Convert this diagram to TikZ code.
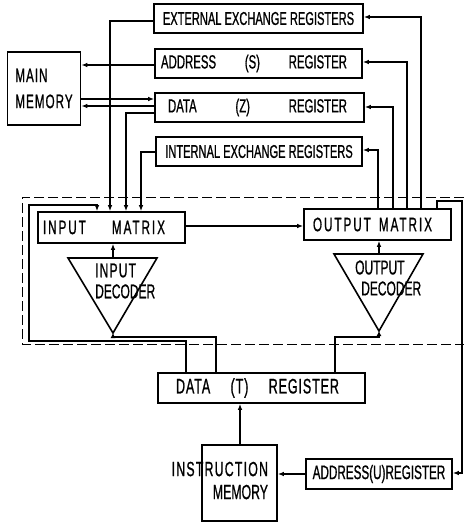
\documentclass[tikz,border=0pt]{standalone}
\usepackage{fontspec}
\setmainfont{Liberation Sans}[FakeStretch=0.6,FakeBold=0.8]
\usetikzlibrary{arrows.meta}
\begin{document}
\begin{tikzpicture}[x=1pt,y=-1pt,line join=miter,
  box/.style={draw,line width=1.6pt,inner sep=0pt,rectangle},
  edge/.style={line width=1.6pt},
  wire/.style={line width=1.1pt},
  arr/.style={wire,-{Latex[length=6pt,width=4.5pt]}},
  sarr/.style={wire,-{Latex[length=5pt,width=5pt]}},
  frame/.style={line width=0.9pt,dash pattern=on 10pt off 4pt},
  fs/.style={font=\fontsize{#1}{#1}\selectfont}]
\useasboundingbox (0,0) rectangle (464,523);

% registers
\node[box,minimum width=209pt,minimum height=29pt,fs=18.5] (ext) at (258.5,18.5) {EXTERNAL EXCHANGE REGISTERS};
\node[box,minimum width=207pt,minimum height=29pt,fs=19] (addrS) at (258.5,63.5) {\hbox to 195pt{ADDRESS\hfil(S)\hfil REGISTER\hspace*{9pt}}};
\node[box,minimum width=209pt,minimum height=29pt,fs=19] (dataZ) at (259.5,107.5) {\hbox to 183pt{DATA\hfil(Z)\hfil REGISTER\hspace*{4pt}}};
\node[box,minimum width=206pt,minimum height=29pt,fs=18.5] (intx) at (259,151.5) {INTERNAL EXCHANGE REGISTERS};
\node[box,minimum width=73pt,minimum height=73pt,align=left,font=\fontsize{19.5}{26}\selectfont\addfontfeature{LetterSpace=5}] (mm) at (44,88.5) {MAIN\\MEMORY};

% matrices
\node[box,minimum width=147pt,minimum height=31pt,font=\fontsize{19.5}{19.5}\selectfont\addfontfeature{LetterSpace=10}] (inm) at (111.5,227.5) {\hbox to 137pt{INPUT\hfil MATRIX\hspace*{15pt}}};
\node[box,minimum width=147pt,minimum height=31pt,font=\fontsize{19.5}{19.5}\selectfont\addfontfeature{LetterSpace=10}] (outm) at (377.5,224.5) {\hbox to 129pt{OUTPUT\hfil MATRIX\hspace*{10pt}}};

% decoders
\coordinate (indecL) at (68,258);
\coordinate (indecR) at (157,258);
\coordinate (indecA) at (113,333);
\coordinate (indecT) at (113,258);
\draw[edge] (indecL) -- (indecR) -- (indecA) -- cycle;
\node[anchor=west,inner sep=0pt,align=left,font=\fontsize{20}{21}\selectfont] (indec) at (95,281) {\addfontfeature{LetterSpace=6}INPUT\\DECODER};

\coordinate (outdecL) at (334,254);
\coordinate (outdecR) at (423,254);
\coordinate (outdecA) at (379,331);
\coordinate (outdecT) at (379,254);
\draw[edge] (outdecL) -- (outdecR) -- (outdecA) -- cycle;
\node[anchor=west,inner sep=0pt,align=left,font=\fontsize{20}{21}\selectfont] (outdec) at (355,278) {OUTPUT\\\hspace*{6pt}DECODER};

% bottom
\node[box,minimum width=207pt,minimum height=30pt,font=\fontsize{21}{21}\selectfont\addfontfeature{LetterSpace=4}] (dataT) at (261.5,388) {\hbox to 171pt{DATA\hfil(T)\hfil REGISTER\hspace*{8pt}}};
\node[box,minimum width=75pt,minimum height=76pt,font=\fontsize{20.5}{23}\selectfont] (imem) at (239.5,483) {\makebox[57pt][r]{\begin{tabular}{@{}r@{}}{\addfontfeature{LetterSpace=6}INSTRUCTION}\\MEMORY\end{tabular}}};
\node[box,minimum width=146pt,minimum height=30pt,fs=19.5] (addrU) at (379,474) {ADDRESS(U)REGISTER};

% dashed frame
\draw[frame] (464,197) -- (22,197) -- (22,344) -- (464,344);

% decoder to matrix
\draw[arr] (indecT) -- (indecT |- inm.south);
\draw[arr] (outdecT) -- (outdecT |- outm.south);
\draw[arr] (inm.east |- 0,226) -- (outm.west |- 0,226);

% into input matrix
\draw[arr] (ext.west |- 0,21) -| (inm.north -| 110,0);
\draw[arr] (dataZ.west |- 0,113) -| (inm.north -| 126,0);
\draw[arr] (intx.west |- 0,152) -| (inm.north -| 141,0);
\draw[arr] (dataT.north -| 186,0) |- (29,341) |- (97,205) -- (inm.north -| 97,0);

% data T to decoders
\draw[sarr] (dataT.north -| 216,0) |- (113,337) -- (indecA);
\draw[sarr] (dataT.north -| 335,0) |- (379,337) -- (outdecA);

% from output matrix
\draw[arr] (outm.north -| 378,0) |- (intx.east |- 0,150);
\draw[arr] (outm.north -| 393,0) |- (dataZ.east |- 0,107);
\draw[arr] (outm.north -| 407,0) |- (addrS.east |- 0,62);
\draw[arr] (outm.north -| 421,0) |- (ext.east |- 0,17);
\draw[arr] (outm.north -| 437,0) |- (462,201) |- (addrU.east |- 0,473);

% main memory
\draw[arr] (addrS.west |- 0,65) -- (mm.east |- 0,65);
\draw[arr] (mm.east |- 0,99) -- (dataZ.west |- 0,99);
\draw[arr] (dataZ.west |- 0,106) -- (mm.east |- 0,106);

% instruction path
\draw[arr] (imem.north -| 240,0) -- (dataT.south -| 240,0);
\draw[arr] (addrU.west) -- (addrU.west -| imem.east);
\end{tikzpicture}
\end{document}
